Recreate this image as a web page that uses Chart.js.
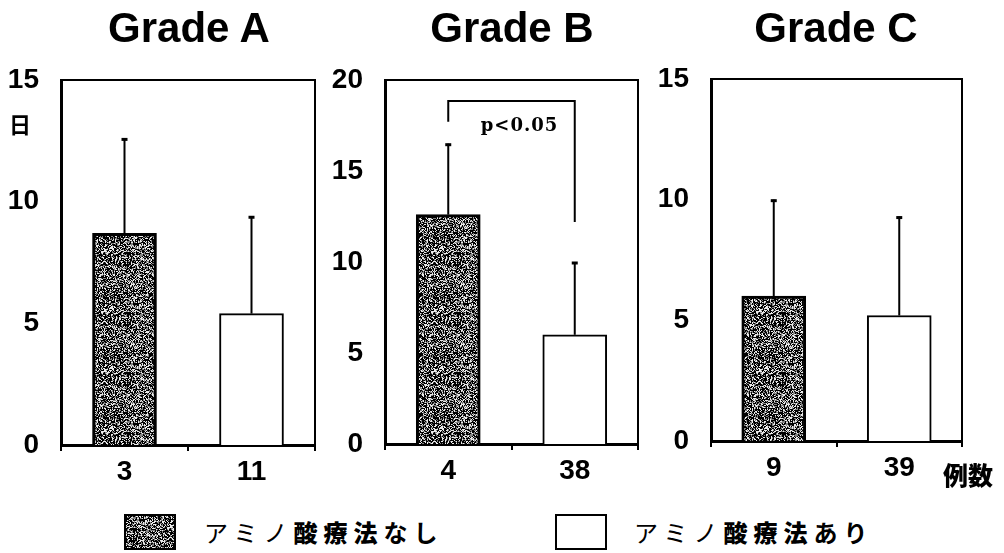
<!DOCTYPE html>
<html lang="ja">
<head>
<meta charset="utf-8">
<script src="https://cdn.jsdelivr.net/npm/chart.js@4/dist/chart.umd.min.js"></script>
<style>
  html, body { margin: 0; padding: 0; background: #fff; }
  #stage { position: relative; width: 1004px; height: 553px; overflow: hidden; background: #fff; }
  canvas { position: absolute; top: 0; }
  .title { position: absolute; top: 4px; font: bold 42px "Liberation Sans", Arial, sans-serif; color: #000; transform: translateX(-50%); white-space: nowrap; }
  .jp { position: absolute; color: #000; font-family: "Noto Sans CJK JP", sans-serif; white-space: nowrap; }
  .leg { font-size: 24px; letter-spacing: 6px; font-weight: 400; }
  .leg b { font-weight: 900; }
  .leg i { font-style: normal; font-weight: 600; }
  .legbox { position: absolute; width: 52px; height: 36px; box-sizing: border-box; border: 2px solid #000; }
</style>
</head>
<body>
<div id="stage">
  <canvas id="cA" width="330" height="500" style="left:0px"></canvas>
  <canvas id="cB" width="325" height="500" style="left:330px"></canvas>
  <canvas id="cC" width="349" height="500" style="left:655px"></canvas>

  <div class="title" style="left:189px">Grade A</div>
  <div class="title" style="left:512px">Grade B</div>
  <div class="title" style="left:836px">Grade C</div>

  <div class="jp" style="left:9px; top:107px; font-size:22px; font-weight:700;">日</div>
  <div class="jp" style="left:943px; top:456px; font-size:25px; font-weight:900;">例数</div>

  <div id="legDark" class="legbox" style="left:124px; top:514px;"></div>
  <div class="jp leg" style="left:204px; top:514px;">アミノ<b>酸療法</b><i>なし</i></div>
  <div class="legbox" style="left:555px; top:514px; background:#fff;"></div>
  <div class="jp leg" style="left:634px; top:514px;">アミノ<b>酸療法</b><i>あり</i></div>
</div>

<script>
// Mean hospital days (日) per grade, without / with amino-acid therapy
const grades      = ['Grade A', 'Grade B', 'Grade C'];
const nWithout    = ['3', '4', '9'];     // case counts (例数), no amino-acid therapy
const nWith       = ['11', '38', '39'];  // case counts, with amino-acid therapy
const meanWithout = [8.7, 12.6, 6.0];
const meanWith    = [5.4, 6.0, 5.2];
const sdWithout   = [3.9, 3.9, 4.0];
const sdWith      = [4.0, 4.0, 4.1];
const yMax        = [15, 20, 15];
const yStep       = 5;

// Significance bracket (Grade B): left end, top, right end (days)
const bracketLevels = [17.7, 18.85, 12.2];
const bracketText   = 'p<0.05';

// Speckled black fill for the "without" bars (deterministic hash noise)
function makeSpeckle() {
  const size = 60;
  const c = document.createElement('canvas');
  c.width = c.height = size;
  const g = c.getContext('2d');
  const img = g.createImageData(size, size);
  for (let y = 0; y < size; y++) {
    for (let x = 0; x < size; x++) {
      const s = Math.sin(x * 12.9898 + y * 78.233) * 43758.5453;
      const h = s - Math.floor(s);
      const v = h < 0.5 ? 0 : (h < 0.75 ? 130 : 235);
      const i = (y * size + x) * 4;
      img.data[i] = img.data[i + 1] = img.data[i + 2] = v;
      img.data[i + 3] = 255;
    }
  }
  g.putImageData(img, 0, 0);
  return c;
}
const speckle = makeSpeckle();
document.getElementById('legDark').style.background = 'url(' + speckle.toDataURL() + ')';

// Error bars, frame and significance bracket
const extrasPlugin = {
  id: 'extras',
  afterDatasetsDraw(chart) {
    const { ctx, chartArea: a, scales: { x, y } } = chart;
    const o = chart.options.plugins.extras;
    ctx.save();
    ctx.strokeStyle = '#000';
    ctx.fillStyle = '#000';
    // upper error bars
    o.means.forEach((m, i) => {
      const cx = x.getPixelForValue(i);
      const y0 = y.getPixelForValue(m);
      const y1 = y.getPixelForValue(m + o.sds[i]);
      ctx.lineWidth = 2;
      ctx.beginPath();
      ctx.moveTo(cx, y0);
      ctx.lineTo(cx, y1);
      ctx.stroke();
      ctx.lineWidth = 3;
      ctx.beginPath();
      ctx.moveTo(cx - 3, y1 + 1);
      ctx.lineTo(cx + 3, y1 + 1);
      ctx.stroke();
    });
    // top and right frame lines
    ctx.lineWidth = 2;
    ctx.beginPath();
    ctx.moveTo(a.left, a.top);
    ctx.lineTo(a.right, a.top);
    ctx.lineTo(a.right, a.bottom);
    ctx.stroke();
    // bracket
    if (o.bracket) {
      const xl = x.getPixelForValue(0);
      const xr = x.getPixelForValue(1);
      ctx.lineWidth = 2;
      ctx.beginPath();
      ctx.moveTo(xl, y.getPixelForValue(o.bracket[0]));
      ctx.lineTo(xl, y.getPixelForValue(o.bracket[1]));
      ctx.lineTo(xr, y.getPixelForValue(o.bracket[1]));
      ctx.lineTo(xr, y.getPixelForValue(o.bracket[2]));
      ctx.stroke();
      ctx.font = 'bold 18px "DejaVu Serif", serif';
      if ('letterSpacing' in ctx) ctx.letterSpacing = '1px';
      ctx.textAlign = 'center';
      ctx.textBaseline = 'middle';
      ctx.fillText(o.text, (xl + xr) / 2 + 8, y.getPixelForValue(o.bracket[1]) + 25);
    }
    ctx.restore();
  }
};

const layouts = [
  { id: 'cA', yw: 61, padR: 15, padT: 80, xh: 55 },
  { id: 'cB', yw: 55, padR: 17, padT: 80, xh: 56 },
  { id: 'cC', yw: 56, padR: 42, padT: 79, xh: 59 }
];

grades.forEach((g, k) => {
  const L = layouts[k];
  const ctx = document.getElementById(L.id).getContext('2d');
  new Chart(ctx, {
    type: 'bar',
    data: {
      labels: [nWithout[k], nWith[k]],
      datasets: [{
        label: g,
        data: [meanWithout[k], meanWith[k]],
        backgroundColor: [ctx.createPattern(speckle, 'repeat'), '#ffffff'],
        borderColor: '#000',
        borderWidth: [3, 2],
        barThickness: 64
      }]
    },
    plugins: [extrasPlugin],
    options: {
      responsive: false,
      animation: false,
      devicePixelRatio: 1,
      layout: { padding: { top: L.padT, right: L.padR, left: 0, bottom: 0 } },
      plugins: {
        legend: { display: false },
        tooltip: { enabled: false },
        title: { display: false },
        extras: {
          means: [meanWithout[k], meanWith[k]],
          sds: [sdWithout[k], sdWith[k]],
          bracket: k === 1 ? bracketLevels : null,
          text: bracketText
        }
      },
      scales: {
        x: {
          offset: true,
          afterFit(s) { s.height = L.xh; },
          grid: { display: true, drawOnChartArea: false, drawTicks: true, tickLength: 6, color: '#000', lineWidth: 2, offset: true },
          border: { display: true, color: '#000', width: 3 },
          ticks: { color: '#000', padding: 4, font: { family: '"Liberation Sans", Arial, sans-serif', size: 28, weight: 'bold' } }
        },
        y: {
          min: 0,
          max: yMax[k],
          afterFit(s) { s.width = L.yw; },
          grid: { display: false },
          border: { display: true, color: '#000', width: 3 },
          ticks: { stepSize: yStep, color: '#000', padding: 14, font: { family: '"Liberation Sans", Arial, sans-serif', size: 28, weight: 'bold' } }
        }
      }
    }
  });
});
</script>
</body>
</html>
